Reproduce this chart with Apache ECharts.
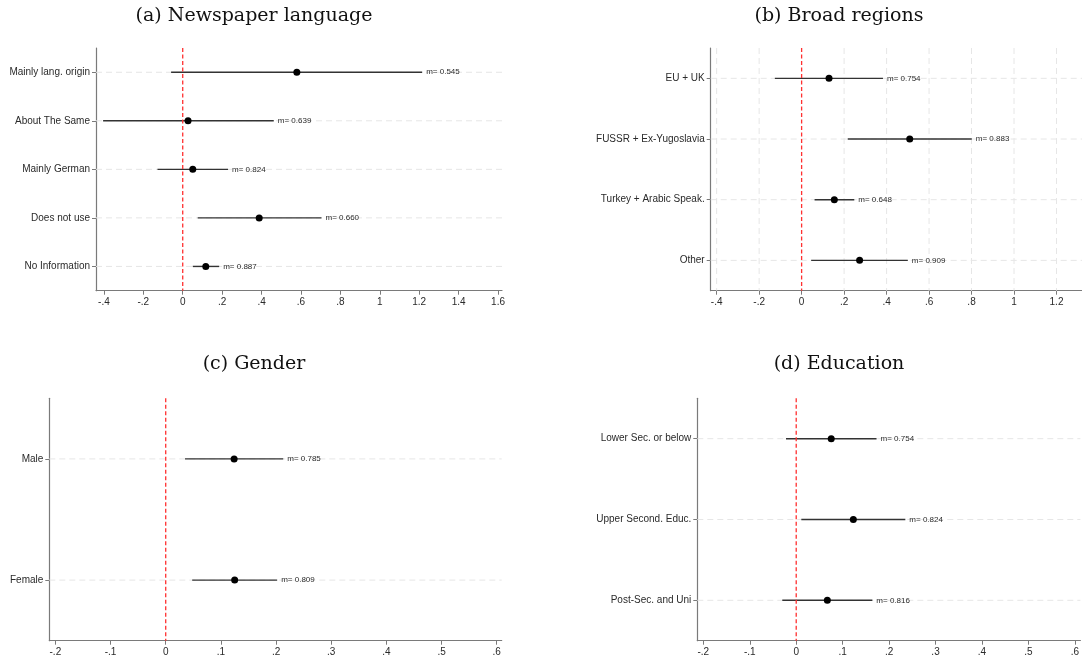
<!DOCTYPE html>
<html>
<head>
<meta charset="utf-8">
<script src="https://cdn.jsdelivr.net/npm/echarts@6/dist/echarts.min.js"></script>
<style>
html,body{margin:0;padding:0;background:#fff;}
#chart{width:1082px;height:663px;}
</style>
</head>
<body>
<div id="chart"></div>
<script>
// ---------- Data ----------
const titles = ['(a) Newspaper language', '(b) Broad regions', '(c) Gender', '(d) Education'];

const catsA = ['Mainly lang. origin', 'About The Same', 'Mainly German', 'Does not use', 'No Information'];
const estA  = [0.579, 0.027, 0.051, 0.388, 0.117];
const loA   = [-0.059, -0.404, -0.128, 0.076, 0.051];
const hiA   = [1.215, 0.462, 0.230, 0.704, 0.185];
const mA    = [0.545, 0.639, 0.824, 0.660, 0.887];
const ticksA = [-0.4, -0.2, 0, 0.2, 0.4, 0.6, 0.8, 1, 1.2, 1.4, 1.6];

const catsB = ['EU + UK', 'FUSSR + Ex-Yugoslavia', 'Turkey + Arabic Speak.', 'Other'];
const estB  = [0.129, 0.509, 0.154, 0.273];
const loB   = [-0.126, 0.217, 0.061, 0.045];
const hiB   = [0.383, 0.801, 0.248, 0.500];
const mB    = [0.754, 0.883, 0.648, 0.909];
const ticksB = [-0.4, -0.2, 0, 0.2, 0.4, 0.6, 0.8, 1, 1.2];

const catsC = ['Male', 'Female'];
const estC  = [0.124, 0.125];
const loC   = [0.035, 0.048];
const hiC   = [0.213, 0.202];
const mC    = [0.785, 0.809];
const ticksC = [-0.2, -0.1, 0, 0.1, 0.2, 0.3, 0.4, 0.5, 0.6];

const catsD = ['Lower Sec. or below', 'Upper Second. Educ.', 'Post-Sec. and Uni'];
const estD  = [0.0754, 0.123, 0.067];
const loD   = [-0.022, 0.011, -0.030];
const hiD   = [0.173, 0.235, 0.164];
const mD    = [0.754, 0.824, 0.816];
const ticksD = [-0.2, -0.1, 0, 0.1, 0.2, 0.3, 0.4, 0.5, 0.6];

const refValue = 0; // reference (null effect) line

// ---------- Layout / style ----------
const SANS = 'Liberation Sans, Arial, sans-serif';
const SERIF = 'DejaVu Serif, serif';
const AXIS_COLOR = '#7a7a7a';
const TEXT_COLOR = '#2a2a2a';

const panels = [
  {cats: catsA, est: estA, lo: loA, hi: hiA, m: mA, ticks: ticksA, min: -0.44, max: 1.62,
   grid: {left: 96, top: 48, width: 406, height: 242.7}, vgrid: false, title: {x: 254, y: 7}},
  {cats: catsB, est: estB, lo: loB, hi: hiB, m: mB, ticks: ticksB, min: -0.428, max: 1.32,
   grid: {left: 710.7, top: 48, width: 374, height: 242.7}, vgrid: true, title: {x: 839, y: 7}},
  {cats: catsC, est: estC, lo: loC, hi: hiC, m: mC, ticks: ticksC, min: -0.211, max: 0.609,
   grid: {left: 49.3, top: 398.3, width: 452.4, height: 242.4}, vgrid: false, title: {x: 254, y: 355}},
  {cats: catsD, est: estD, lo: loD, hi: hiD, m: mD, ticks: ticksD, min: -0.213, max: 0.612,
   grid: {left: 697.3, top: 398.3, width: 387.3, height: 242.4}, vgrid: false, title: {x: 839, y: 355}}
];

function fmtTick(v) {
  const s = String(Math.round(v * 10) / 10);
  return s.replace(/^(-?)0\./, '$1.');
}

function makeRender(labels) {
  return function (params, api) {
    const lo = api.value(0), hi = api.value(1), cat = api.value(2), idx = api.value(3);
    const p1 = api.coord([lo, cat]);
    const p2 = api.coord([hi, cat]);
    const cs = params.coordSys;
    return {
      type: 'group',
      children: [
        {type: 'line', shape: {x1: cs.x, y1: p1[1], x2: cs.x + cs.width, y2: p1[1]},
         style: {stroke: '#e6e6e6', lineWidth: 1, lineDash: [6, 4]}, z2: 0},
        {type: 'line', shape: {x1: p1[0], y1: p1[1], x2: p2[0], y2: p2[1]},
         style: {stroke: '#333333', lineWidth: 1.4}, z2: 2},
        {type: 'text', z2: 3,
         style: {x: p2[0] + 4, y: p2[1], text: 'm= ' + labels[idx].toFixed(3),
                 fontSize: 8, fontFamily: SANS, fill: TEXT_COLOR, align: 'left', verticalAlign: 'middle'}}
      ]
    };
  };
}

function makeVLine(color, dash, width) {
  return function (params, api) {
    const x = api.coord([api.value(0), 0])[0];
    const cs = params.coordSys;
    return {type: 'line', shape: {x1: x, y1: cs.y, x2: x, y2: cs.y + cs.height},
            style: {stroke: color, lineWidth: width, lineDash: dash}};
  };
}

const grid = [], xAxis = [], yAxis = [], series = [], title = [];
panels.forEach((p, i) => {
  grid.push(Object.assign({containLabel: false}, p.grid));
  title.push({text: titles[i], left: p.title.x, top: p.title.y, textAlign: 'center', padding: 0,
              textStyle: {fontFamily: SERIF, fontSize: 19, fontWeight: 'normal', color: '#111'}});
  xAxis.push({
    type: 'value', gridIndex: i, min: p.min, max: p.max, position: 'bottom',
    axisLine: {show: true, onZero: false, lineStyle: {color: AXIS_COLOR, width: 1.2}},
    axisTick: {show: true, length: 4, customValues: p.ticks, lineStyle: {color: AXIS_COLOR}},
    axisLabel: {show: true, customValues: p.ticks, formatter: fmtTick, fontSize: 10,
                fontFamily: SANS, color: TEXT_COLOR, margin: 7},
    splitLine: {show: false}
  });
  yAxis.push({
    type: 'category', gridIndex: i, data: p.cats, inverse: true, position: 'left',
    axisLine: {show: true, onZero: false, lineStyle: {color: AXIS_COLOR, width: 1.2}},
    axisTick: {show: true, alignWithLabel: true, length: 4, lineStyle: {color: AXIS_COLOR}},
    axisLabel: {fontSize: 10, fontFamily: SANS, color: TEXT_COLOR, margin: 6},
    splitLine: {show: false}
  });
  if (p.vgrid) {
    series.push({
      type: 'custom', xAxisIndex: i, yAxisIndex: i, z: 1, silent: true,
      renderItem: makeVLine('#e6e6e6', [6, 4], 1),
      encode: {x: 0},
      data: p.ticks.filter(t => t !== refValue).map(t => [t])
    });
  }
  series.push({
    type: 'custom', xAxisIndex: i, yAxisIndex: i, z: 2,
    renderItem: makeRender(p.m),
    encode: {x: [0, 1], y: 2},
    data: p.cats.map((c, k) => [p.lo[k], p.hi[k], k, k]),
    silent: true
  });
  series.push({
    type: 'custom', xAxisIndex: i, yAxisIndex: i, z: 3, silent: true,
    renderItem: makeVLine('#ff3030', [4, 2.5], 1.3),
    encode: {x: 0},
    data: [[refValue]]
  });
  series.push({
    type: 'scatter', xAxisIndex: i, yAxisIndex: i, z: 4,
    symbol: 'circle', symbolSize: 7,
    itemStyle: {color: '#000', opacity: 1},
    data: p.cats.map((c, k) => [p.est[k], k]),
    silent: true
  });
});

const chart = echarts.init(document.getElementById('chart'), null, {renderer: 'canvas'});
chart.setOption({animation: false, backgroundColor: '#fff', title, grid, xAxis, yAxis, series});
</script>
</body>
</html>
